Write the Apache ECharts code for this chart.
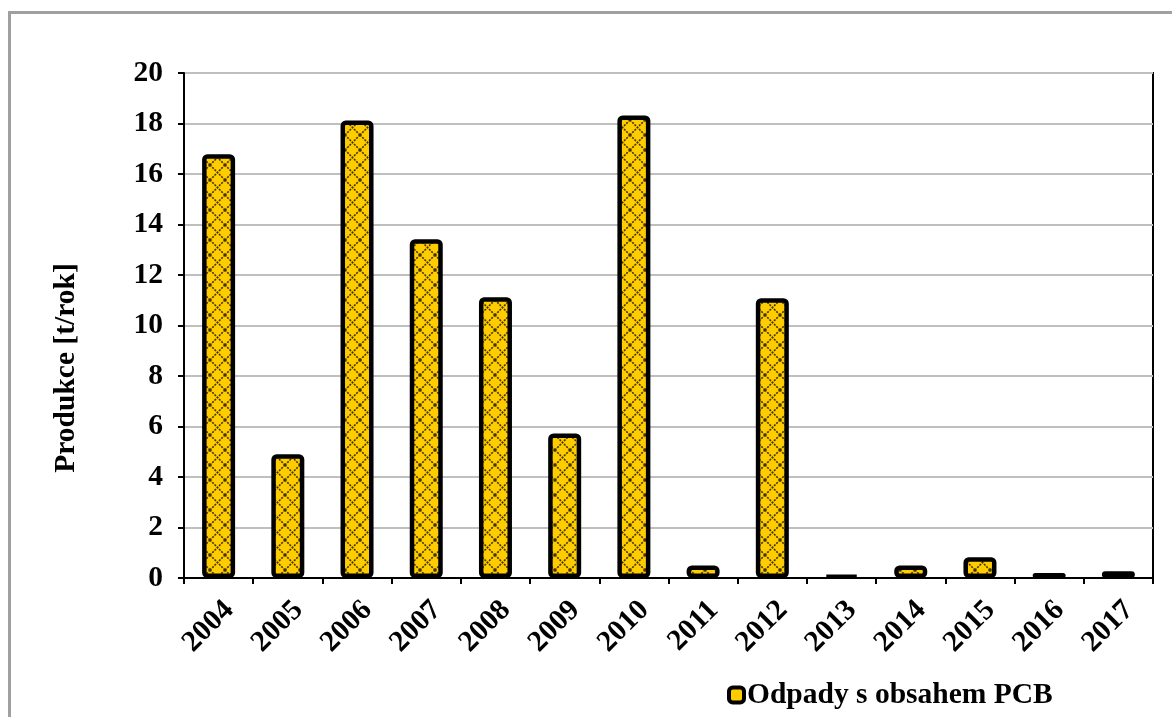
<!DOCTYPE html>
<html>
<head>
<meta charset="utf-8">
<script src="https://cdn.jsdelivr.net/npm/echarts@6/dist/echarts.min.js"></script>
<style>
  html, body { margin: 0; padding: 0; background: #fff; }
  #chart { width: 1172px; height: 717px; }
</style>
</head>
<body>
<div id="chart"></div>
<script>
// Annual production of PCB-containing waste
const years = ['2004', '2005', '2006', '2007', '2008', '2009', '2010', '2011', '2012', '2013', '2014', '2015', '2016', '2017'];
const production = [16.78, 4.9, 18.12, 13.42, 11.12, 5.72, 18.32, 0.5, 11.08, 0.1, 0.5, 0.82, 0.2, 0.27];
const yTicks = [0, 2, 4, 6, 8, 10, 12, 14, 16, 18, 20];
const seriesName = 'Odpady s obsahem PCB';
const yAxisTitle = 'Produkce [t/rok]';

// Yellow fill with a dark diagonal cross-hatch
function hatchPattern() {
  const s = 15;
  const c = document.createElement('canvas');
  c.width = s; c.height = s;
  const g = c.getContext('2d');
  g.fillStyle = '#FFCC00';
  g.fillRect(0, 0, s, s);
  g.strokeStyle = 'rgba(30,25,0,0.85)';
  g.lineWidth = 1.6;
  g.setLineDash([2, 1.2]);
  g.beginPath();
  g.moveTo(0, 0); g.lineTo(s, s);
  g.moveTo(s, 0); g.lineTo(0, s);
  g.stroke();
  return c;
}

const font = 'Liberation Serif, Times New Roman, serif';
const fs = 29.5;
const chart = echarts.init(document.getElementById('chart'));
chart.setOption({
  animation: false,
  grid: { left: 184, right: 19, top: 73, bottom: 139, show: true, borderColor: '#000', borderWidth: 2 },
  xAxis: {
    type: 'category',
    data: years,
    axisLine: { lineStyle: { color: '#000', width: 2 } },
    axisTick: { show: true, length: 6, lineStyle: { color: '#000', width: 2 } },
    axisLabel: {
      rotate: 45, margin: 17, verticalAlign: 'top',
      fontFamily: font, fontWeight: 'bold', fontSize: fs, color: '#000'
    }
  },
  yAxis: {
    type: 'value',
    min: 0, max: 20, interval: 2,
    axisLine: { show: true, lineStyle: { color: '#000', width: 2 } },
    axisTick: { show: true, length: 6, lineStyle: { color: '#000', width: 2 } },
    splitLine: { lineStyle: { color: '#BFBFBF', width: 2 } },
    axisLabel: {
      margin: 21, fontFamily: font, fontWeight: 'bold', fontSize: fs, color: '#000',
      formatter: v => (yTicks.indexOf(v) >= 0 ? String(v) : '')
    }
  },
  legend: {
    data: [seriesName],
    left: 722, top: 675,
    icon: 'roundRect', itemWidth: 15, itemHeight: 15, itemGap: 5,
    itemStyle: { color: '#FFCC00', borderColor: '#000', borderWidth: 4 },
    textStyle: { fontFamily: font, fontWeight: 'bold', fontSize: fs, color: '#000', padding: [0, 0, 0, -2] }
  },
  graphic: [
    { type: 'rect', z: -10, silent: true,
      shape: { x: 9.5, y: 12.5, width: 1200, height: 740 },
      style: { fill: 'none', stroke: '#A0A0A0', lineWidth: 3 } },
    { type: 'text', x: 66, y: 368, rotation: Math.PI / 2, silent: true,
      style: { text: yAxisTitle, font: 'bold ' + fs + 'px ' + font, fill: '#000', align: 'center', verticalAlign: 'middle' } }
  ],
  series: [{
    name: seriesName,
    type: 'bar',
    data: production,
    barWidth: 33,
    itemStyle: {
      color: { image: hatchPattern(), repeat: 'repeat' },
      borderColor: '#000', borderWidth: 4.5, borderRadius: 3
    }
  }]
});
</script>
</body>
</html>
